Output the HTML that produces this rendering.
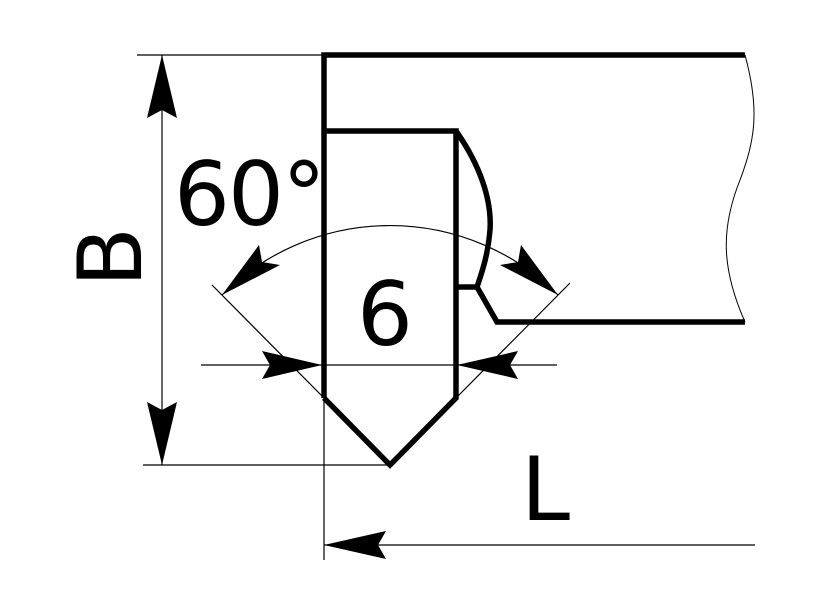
<!DOCTYPE html>
<html><head><style>html,body{margin:0;padding:0;background:#fff}svg{display:block}</style></head>
<body>
<svg width="839" height="596" viewBox="0 0 839 596" xmlns="http://www.w3.org/2000/svg">
<g fill="none" stroke="#000" stroke-width="5.5" stroke-linejoin="miter">
<polyline points="324,398 324,55 745,55"/>
<polyline points="324,131 456,131 456,398 390,465 324,398"/>
<path d="M456,131 C480,165 492,200 490,230 C488,255 482,272 477,287"/>
<polyline points="456,287 477,287 497,322 745,322"/>
</g>
<path d="M745,55 C760,110 755,140 740,180 C720,230 722,270 745,322" fill="none" stroke="#000" stroke-width="1"/>
<g stroke="#000" stroke-width="1.2" fill="none">
<line x1="137" y1="55" x2="324" y2="55"/>
<line x1="143" y1="465" x2="390" y2="465"/>
<line x1="162" y1="55" x2="162" y2="465"/>
<line x1="201" y1="365" x2="557" y2="365"/>
<line x1="212" y1="285" x2="324" y2="398"/>
<line x1="570" y1="283" x2="456" y2="398"/>
<line x1="324" y1="398" x2="324" y2="560"/>
<line x1="324" y1="545" x2="755" y2="545"/>
<path d="M222,295 A238,238 0 0 1 558,295"/>
</g>
<g fill="#000">
<polygon points="162,55 177,118 162,110 147,118"/>
<polygon points="162,465 177,402 162,410 147,402"/>
<polygon points="322,365 262,351 270,365 262,379"/>
<polygon points="457,365 518,351 510,365 518,379"/>
<polygon points="324,545 386,531 378,545 386,559"/>
<polygon points="222,295 259,245 262,262 280,265"/>
<polygon points="558,295 521,245 518,262 500,265"/>
</g>
<g font-family="'DejaVu Sans','Liberation Sans',sans-serif" font-size="88" fill="#000">
<text x="174" y="225" letter-spacing="-2">60°</text>
<text x="385" y="345" text-anchor="middle">6</text>
<text x="521" y="520">L</text>
<text transform="translate(141,257) rotate(-90)" text-anchor="middle">B</text>
</g>
</svg>
</body></html>
